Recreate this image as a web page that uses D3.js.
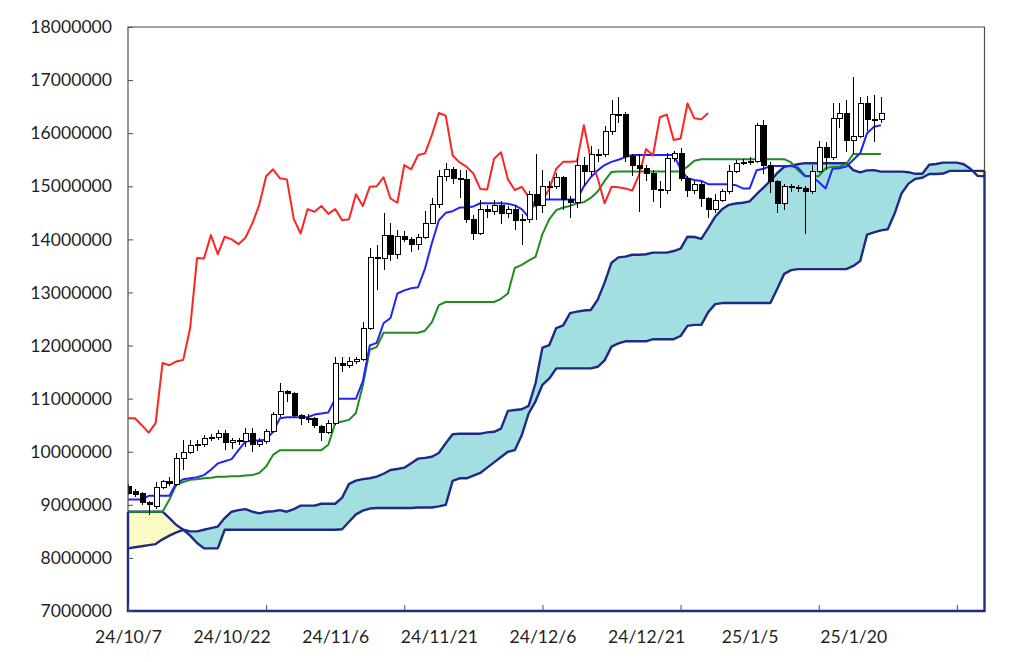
<!DOCTYPE html>
<html><head><meta charset="utf-8">
<script src="https://cdn.jsdelivr.net/npm/d3@7"></script>
<style>
html,body{margin:0;padding:0;background:#fff;}
svg{display:block;font-family:Lato,"Open Sans",sans-serif;}
</style></head><body>
<svg id="chart" width="1024" height="662"></svg>
<script>
// ---- data (prices in millions of yen), day 0 = 24/10/7 ----
const openP = [9.35,9.25,9.22,9.05,8.96,9.33,9.43,9.38,9.88,9.99,
10.11,10.14,10.24,10.26,10.35,10.17,10.21,10.2,10.35,10.13,
10.2,10.39,10.71,11.14,11.09,10.69,10.63,10.63,10.48,10.36,
10.54,11.67,11.63,11.7,11.73,12.33,13.65,13.64,14.08,13.72,
14.05,14.0,13.91,14.03,14.3,14.65,15.19,15.32,15.15,15.13,
14.38,14.11,14.57,14.52,14.63,14.48,14.57,14.36,14.38,14.85,
14.63,14.99,15.0,15.17,14.75,14.69,15.4,15.28,15.59,15.6,
16.03,16.36,16.35,15.56,15.4,15.34,15.24,14.94,14.92,15.53,
15.62,15.15,14.92,15.04,14.77,14.57,14.74,14.9,15.28,15.42,
15.45,15.46,16.15,15.4,15.09,14.68,15.0,14.97,14.96,14.91,
15.28,15.73,15.54,16.28,16.37,15.87,15.93,16.56,16.26,16.25];
const highP = [9.40,9.30,9.25,9.08,9.43,9.47,9.52,9.98,10.22,10.22,
10.22,10.31,10.33,10.40,10.40,10.25,10.26,10.45,10.45,10.25,
10.42,10.75,11.29,11.17,11.12,10.72,10.72,10.66,10.50,10.60,
11.79,11.79,11.79,11.79,12.45,13.83,13.89,14.50,14.31,14.18,
14.15,14.05,14.10,14.54,14.78,15.31,15.43,15.36,15.30,15.30,
14.45,14.74,14.65,14.74,14.72,14.62,14.65,14.48,14.91,15.60,
15.31,15.10,15.25,15.20,14.82,15.53,15.55,15.75,15.70,16.13,
16.62,16.68,16.40,15.60,15.60,15.40,15.30,15.10,15.62,15.66,
15.72,15.20,15.10,15.10,14.80,14.85,14.95,15.40,15.50,15.52,
15.55,16.20,16.25,15.45,15.12,15.05,15.05,15.02,15.00,15.40,
15.85,15.83,16.56,16.56,16.62,17.06,16.68,16.70,16.72,16.69];
const lowP = [9.18,9.15,9.00,8.81,8.93,9.30,9.35,9.35,9.65,9.95,
10.02,10.08,10.20,10.22,10.03,10.05,10.12,10.09,10.00,10.08,
10.15,10.35,10.65,10.94,10.65,10.50,10.55,10.45,10.20,10.33,
10.50,11.50,11.58,11.65,11.70,12.30,13.05,13.42,13.60,13.63,
13.95,13.77,13.80,14.00,14.28,14.60,15.10,15.05,14.77,14.30,
13.99,14.08,14.40,14.45,14.28,14.40,14.18,13.89,14.30,14.37,
14.50,14.75,14.95,14.55,14.40,14.60,15.00,15.20,15.45,15.55,
15.97,16.20,15.45,15.20,14.52,15.10,14.71,14.60,14.85,15.45,
15.10,14.80,14.85,14.61,14.40,14.50,14.70,14.85,15.25,15.40,
15.40,15.44,15.24,14.87,14.50,14.55,14.90,14.90,14.11,14.85,
15.25,15.30,15.50,16.10,15.65,15.60,15.90,16.05,15.84,16.20];
const closeP = [9.22,9.2,9.05,9.0,9.33,9.43,9.41,9.88,9.99,10.11,
10.14,10.24,10.26,10.35,10.17,10.21,10.2,10.35,10.13,10.2,
10.39,10.71,11.14,11.09,10.69,10.63,10.63,10.5,10.36,10.54,
11.67,11.63,11.7,11.73,12.33,13.65,13.64,14.08,13.72,14.05,
14.0,13.91,14.03,14.3,14.65,15.19,15.32,15.15,15.13,14.38,
14.11,14.57,14.52,14.63,14.48,14.57,14.36,14.38,14.85,14.63,
14.99,15.0,15.17,14.75,14.69,15.4,15.28,15.59,15.6,16.03,
16.36,16.35,15.56,15.4,15.34,15.24,14.94,14.92,15.53,15.62,
15.15,14.92,15.04,14.77,14.57,14.74,14.9,15.28,15.42,15.45,
15.46,16.15,15.4,15.09,14.68,15.0,14.97,14.96,14.91,15.28,
15.73,15.54,16.28,16.37,15.87,15.93,16.56,16.26,16.25,16.38];

// conversion line (blue)
const tenkan = [9.10,9.10,9.10,9.17,9.17,9.17,9.17,9.41,9.48,9.50,
9.52,9.56,9.66,9.78,9.82,9.86,10.03,10.19,10.21,10.21,
10.23,10.38,10.63,10.65,10.65,10.65,10.65,10.70,10.72,10.74,
11.00,11.00,11.00,11.00,11.33,12.00,12.05,12.42,12.52,12.98,
13.04,13.08,13.10,13.45,13.93,14.36,14.50,14.53,14.60,14.60,
14.62,14.68,14.68,14.68,14.68,14.67,14.64,14.57,14.42,14.75,
14.75,14.75,14.75,14.75,14.75,14.75,15.00,15.17,15.30,15.40,
15.46,15.50,15.55,15.59,15.59,15.59,15.59,15.59,15.59,15.59,
15.33,15.15,15.12,15.10,15.04,15.04,15.04,15.04,15.02,14.96,
14.96,15.30,15.33,15.38,15.38,15.38,15.38,15.35,15.20,15.19,
15.08,14.96,15.33,15.34,15.37,15.50,15.62,16.00,16.12,16.15];
// base line (green)
const kijun = [8.87,8.87,8.87,8.87,8.87,8.87,9.10,9.38,9.43,9.47,
9.48,9.50,9.51,9.53,9.53,9.54,9.54,9.55,9.56,9.60,
9.72,9.94,10.03,10.03,10.03,10.03,10.03,10.03,10.03,10.13,
10.54,10.57,10.60,10.73,11.25,11.92,11.97,12.24,12.24,12.24,
12.24,12.24,12.24,12.28,12.44,12.76,12.82,12.82,12.82,12.82,
12.82,12.82,12.82,12.82,12.88,12.98,13.46,13.52,13.60,13.67,
14.10,14.38,14.55,14.60,14.63,14.68,14.70,14.78,14.90,15.10,
15.27,15.28,15.28,15.28,15.28,15.28,15.28,15.28,15.28,15.28,
15.28,15.37,15.48,15.51,15.51,15.51,15.51,15.51,15.51,15.51,
15.51,15.51,15.51,15.51,15.51,15.51,15.45,15.30,15.19,15.19,
15.19,15.34,15.37,15.37,15.42,15.61,15.61,15.61,15.61,15.61];
// lagging span (red)
const chikou = [10.63,10.63,10.50,10.36,10.54,11.67,11.63,11.70,11.73,12.33,
13.65,13.64,14.08,13.72,14.05,14.00,13.91,14.03,14.30,14.65,
15.19,15.32,15.15,15.13,14.38,14.11,14.57,14.52,14.63,14.48,
14.57,14.36,14.38,14.85,14.63,14.99,15.00,15.17,14.77,14.69,
15.40,15.32,15.59,15.62,15.97,16.38,16.33,15.58,15.45,15.37,
15.24,14.95,14.94,15.52,15.64,15.13,14.93,14.99,14.80,14.62,
14.74,14.95,15.33,15.46,15.46,15.47,16.15,15.50,15.15,14.68,
14.99,14.98,14.96,14.92,15.22,15.70,15.58,16.30,16.35,15.87,
15.90,16.56,16.28,16.26,16.38];
// leading span A and B (cloud)
const spanA = [8.18,8.20,8.22,8.24,8.26,8.35,8.42,8.48,8.53,8.50,
8.50,8.53,8.56,8.59,8.75,8.87,8.90,8.92,8.87,8.84,
8.87,8.88,8.90,8.87,8.92,8.985,8.985,8.985,9.02,9.02,
9.02,9.135,9.395,9.455,9.485,9.50,9.53,9.585,9.655,9.675,
9.70,9.785,9.87,9.885,9.905,9.975,10.16,10.33,10.34,10.34,
10.34,10.34,10.365,10.375,10.435,10.77,10.785,10.80,10.865,11.29,
11.96,12.01,12.33,12.38,12.61,12.64,12.66,12.67,12.865,13.185,
13.56,13.66,13.675,13.71,13.71,13.72,13.75,13.75,13.75,13.78,
13.825,14.05,14.045,14.01,14.21,14.425,14.565,14.65,14.675,14.69,
14.715,14.85,14.975,15.10,15.25,15.365,15.39,15.415,15.435,15.435,
15.435,15.435,15.435,15.435,15.435,15.305,15.26,15.30,15.305,15.275,
15.275,15.275,15.275,15.265,15.235,15.235,15.405,15.42,15.445,15.445,
15.445,15.415,15.325,15.195,15.19];
const spanB = [8.87,8.87,8.87,8.87,8.87,8.87,8.75,8.62,8.53,8.42,
8.28,8.18,8.18,8.18,8.53,8.53,8.53,8.53,8.53,8.53,
8.53,8.53,8.53,8.53,8.53,8.53,8.53,8.53,8.53,8.53,
8.53,8.54,8.68,8.82,8.89,8.93,8.94,8.94,8.94,8.94,
8.94,8.94,8.95,8.95,8.95,8.97,9.0,9.45,9.5,9.5,
9.55,9.6,9.7,9.8,9.9,10.0,10.03,10.31,10.72,10.95,
11.26,11.38,11.57,11.57,11.57,11.57,11.57,11.57,11.6,11.72,
11.98,12.04,12.08,12.08,12.08,12.08,12.12,12.12,12.12,12.12,
12.18,12.37,12.39,12.39,12.63,12.78,12.8,12.8,12.8,12.8,
12.8,12.8,12.8,12.8,13.07,13.35,13.42,13.44,13.44,13.44,
13.44,13.44,13.44,13.44,13.44,13.5,13.59,14.09,14.13,14.17,
14.19,14.49,14.87,15.05,15.14,15.16,15.23,15.23,15.24,15.29,
15.29,15.29,15.29,15.29,15.29];

const yTicks = [7,8,9,10,11,12,13,14,15,16,17,18];
const xTickDays = [0,20,40,60,80,100,120];
const xLabelDays = [0,15,30,45,60,75,90,105];
const xLabels = ["24/10/7","24/10/22","24/11/6","24/11/21","24/12/6","24/12/21","25/1/5","25/1/20"];

// ---- drawing ----
const L = 128, R = 984.5, T = 27, B = 611;
const svg = d3.select("#chart");
const x = d3.scaleLinear().domain([0, 124]).range([L, R]);
const y = d3.scaleLinear().domain([7, 18]).range([B, T]);
const defs = svg.append("defs");
defs.append("clipPath").attr("id","plotClip").append("rect")
  .attr("x",L).attr("y",T).attr("width",R-L).attr("height",B-T);

const idx = d3.range(spanA.length);
defs.append("clipPath").attr("id","aboveB").append("path")
  .attr("d", d3.area().x(i=>x(i)).y0(y(18)).y1(i=>y(spanB[i]))(idx));
defs.append("clipPath").attr("id","aboveA").append("path")
  .attr("d", d3.area().x(i=>x(i)).y0(y(18)).y1(i=>y(spanA[i]))(idx));
const pat = defs.append("pattern").attr("id","dots").attr("width",4).attr("height",4)
  .attr("patternUnits","userSpaceOnUse");
pat.append("rect").attr("width",4).attr("height",4).attr("fill","#fdfbc6");
pat.append("rect").attr("x",1).attr("y",1).attr("width",1).attr("height",1).attr("fill","#ece8b4");

const g = svg.append("g").attr("clip-path","url(#plotClip)");

g.append("path").attr("d", d3.area().x(i=>x(i)).y0(y(7)).y1(i=>y(spanA[i]))(idx))
  .attr("fill","#a3dfe0").attr("clip-path","url(#aboveB)");
g.append("path").attr("d", d3.area().x(i=>x(i)).y0(y(7)).y1(i=>y(spanB[i]))(idx))
  .attr("fill","url(#dots)").attr("clip-path","url(#aboveA)");

const navy = "#1f2a85";
const lineOf = arr => d3.line().x((d,i)=>x(i)).y(d=>y(d))(arr);
g.append("path").attr("d", lineOf(spanB)).attr("fill","none").attr("stroke",navy).attr("stroke-width",2.4).attr("stroke-linejoin","round");
g.append("path").attr("d", lineOf(spanA)).attr("fill","none").attr("stroke",navy).attr("stroke-width",2.4).attr("stroke-linejoin","round");
const n = spanA.length - 1;
svg.append("path")
  .attr("d", `M${x(0)},${y(Math.max(spanA[0],spanB[0]))}L${x(0)},${y(7)}L${x(n)},${y(7)}L${x(n)},${y(Math.max(spanA[n],spanB[n]))}`)
  .attr("fill","none").attr("stroke",navy).attr("stroke-width",2.4);

g.append("path").attr("d", lineOf(kijun)).attr("fill","none").attr("stroke","#1f8c1f").attr("stroke-width",2).attr("stroke-linejoin","round");
g.append("path").attr("d", lineOf(tenkan)).attr("fill","none").attr("stroke","#2222ff").attr("stroke-width",2).attr("stroke-linejoin","round");
g.append("path").attr("d", lineOf(chikou)).attr("fill","none").attr("stroke","#ff2424").attr("stroke-width",2).attr("stroke-linejoin","round");

const days = d3.range(closeP.length);
const cg = g.append("g").attr("shape-rendering","crispEdges");
cg.selectAll("line.wick").data(days).join("line").attr("class","wick")
  .attr("x1",i=>Math.round(x(i))+0.5).attr("x2",i=>Math.round(x(i))+0.5)
  .attr("y1",i=>y(highP[i])).attr("y2",i=>y(lowP[i]))
  .attr("stroke","#000").attr("stroke-width",1);
cg.selectAll("rect.body").data(days).join("rect").attr("class","body")
  .attr("x",i=>Math.round(x(i))-2)
  .attr("width",5)
  .attr("y",i=>y(Math.max(openP[i],closeP[i])))
  .attr("height",i=>Math.max(1, Math.abs(y(openP[i])-y(closeP[i]))))
  .attr("fill",i=>closeP[i]>=openP[i] ? "#fff" : "#000")
  .attr("stroke","#000").attr("stroke-width",1);

const frameColor = "#4d4d4d";
svg.append("path").attr("d",`M${L},${y(8.87)}L${L},${T}L${R},${T}L${R},${y(15.29)}`)
  .attr("fill","none").attr("stroke",frameColor).attr("stroke-width",1.2);

const yAxis = svg.append("g").attr("transform",`translate(${L},0)`)
  .call(d3.axisLeft(y).tickValues(yTicks).tickSize(-5).tickPadding(16)
    .tickFormat(d => String(d*1000000)));
yAxis.select(".domain").remove();
yAxis.selectAll(".tick line").attr("stroke",frameColor);
yAxis.selectAll("text").attr("font-size",17.6).attr("fill","#1f1f1f")
  .attr("font-family","Lato,'Open Sans',sans-serif");

const xTickAxis = svg.append("g").attr("transform",`translate(0,${B})`)
  .call(d3.axisBottom(x).tickValues(xTickDays).tickSize(-6).tickFormat(""));
xTickAxis.select(".domain").remove();
xTickAxis.selectAll(".tick line").attr("stroke",frameColor);

const xLab = svg.append("g").attr("transform",`translate(0,${B})`)
  .call(d3.axisBottom(x).tickValues(xLabelDays).tickSize(0).tickPadding(20)
    .tickFormat((d,i)=>xLabels[i]));
xLab.select(".domain").remove();
xLab.selectAll("text").attr("font-size",17.6).attr("fill","#1f1f1f")
  .attr("font-family","Lato,'Open Sans',sans-serif");
</script>
</body></html>
